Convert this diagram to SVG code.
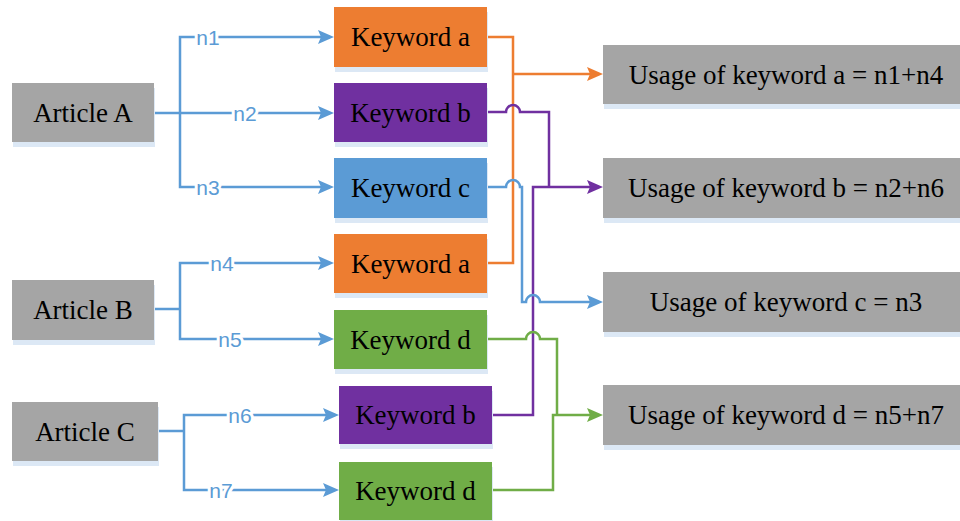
<svg xmlns="http://www.w3.org/2000/svg" width="960" height="521" viewBox="0 0 960 521">
<style>
.sh{fill:#dce8f5}
.gray{fill:#a5a5a5}
.or{fill:#ed7d31}
.pu{fill:#7030a0}
.bl{fill:#5b9bd5}
.gr{fill:#70ad47}
.t{font-family:"Liberation Serif","Times New Roman",serif;font-size:27px;fill:#000;text-anchor:middle}
.lbl{font-family:"Liberation Sans",Arial,sans-serif;font-size:21px;fill:#5b9bd5;text-anchor:middle;stroke:#fff;stroke-width:6px;paint-order:stroke;stroke-linejoin:round}
.c{fill:none;stroke-width:2.5}
.cb{stroke:#5b9bd5}
.co{stroke:#ed7d31}
.cp{stroke:#7030a0}
.cg{stroke:#70ad47}
</style>
<defs>
<marker id="ab" viewBox="0 0 16 14" refX="12" refY="7" markerWidth="16" markerHeight="14" markerUnits="userSpaceOnUse" orient="auto"><path d="M0,0 L16,7 L0,14 L3,7 z" fill="#5b9bd5"/></marker>
<marker id="ao" viewBox="0 0 16 14" refX="12" refY="7" markerWidth="16" markerHeight="14" markerUnits="userSpaceOnUse" orient="auto"><path d="M0,0 L16,7 L0,14 L3,7 z" fill="#ed7d31"/></marker>
<marker id="ap" viewBox="0 0 16 14" refX="12" refY="7" markerWidth="16" markerHeight="14" markerUnits="userSpaceOnUse" orient="auto"><path d="M0,0 L16,7 L0,14 L3,7 z" fill="#7030a0"/></marker>
<marker id="ag" viewBox="0 0 16 14" refX="12" refY="7" markerWidth="16" markerHeight="14" markerUnits="userSpaceOnUse" orient="auto"><path d="M0,0 L16,7 L0,14 L3,7 z" fill="#70ad47"/></marker>
</defs>
<rect width="960" height="521" fill="#fff"/>

<g id="connectors">
<!-- Article A -->
<path class="c cb" d="M154,113 H330" marker-end="url(#ab)"/>
<path class="c cb" d="M180,113 V37 H330" marker-end="url(#ab)"/>
<path class="c cb" d="M180,113 V187 H330" marker-end="url(#ab)"/>
<!-- Article B -->
<path class="c cb" d="M154,309 H180"/>
<path class="c cb" d="M180,309 V263 H330" marker-end="url(#ab)"/>
<path class="c cb" d="M180,309 V339 H330" marker-end="url(#ab)"/>
<!-- Article C -->
<path class="c cb" d="M158,431 H184"/>
<path class="c cb" d="M184,431 V415 H335" marker-end="url(#ab)"/>
<path class="c cb" d="M184,431 V490 H335" marker-end="url(#ab)"/>
<text class="lbl" x="208" y="44.5">n1</text>
<text class="lbl" x="245" y="120.5">n2</text>
<text class="lbl" x="208" y="194.5">n3</text>
<text class="lbl" x="222" y="270.5">n4</text>
<text class="lbl" x="230" y="346.5">n5</text>
<text class="lbl" x="240" y="422.5">n6</text>
<text class="lbl" x="221" y="497.5">n7</text>
<!-- keyword a -->
<path class="c co" d="M487,37 H513 V263 H487"/>
<path class="c co" d="M513,74 H599" marker-end="url(#ao)"/>
<!-- keyword b -->
<path class="c cp" d="M487,112 H506 A7,7 0 0 1 520,112 H549 V187"/>
<path class="c cp" d="M492,415 H533 V187 H599" marker-end="url(#ap)"/>
<!-- keyword c -->
<path class="c cb" d="M487,187 H506 A7,7 0 0 1 520,187 H522 V302 H526 A7,7 0 0 1 540,302 H599" marker-end="url(#ab)"/>
<!-- keyword d -->
<path class="c cg" d="M487,339 H526 A7,7 0 0 1 540,339 H557 V415"/>
<path class="c cg" d="M492,490 H553 V415 H599" marker-end="url(#ag)"/>
</g>

<g id="articleA"><rect class="sh" x="13" y="88" width="142" height="59"/><rect class="gray" x="12" y="83" width="142" height="59"/><text class="t" x="83" y="122">Article A</text></g>
<g id="articleB"><rect class="sh" x="13" y="285" width="142" height="60"/><rect class="gray" x="12" y="280" width="142" height="60"/><text class="t" x="83" y="319">Article B</text></g>
<g id="articleC"><rect class="sh" x="13" y="407" width="146" height="59"/><rect class="gray" x="12" y="402" width="146" height="59"/><text class="t" x="85" y="441">Article C</text></g>

<g id="kwA1"><rect class="sh" x="335" y="12" width="153" height="60"/><rect class="or" x="334" y="7" width="153" height="60"/><text class="t" x="410.5" y="46">Keyword a</text></g>
<g id="kwB1"><rect class="sh" x="335" y="88" width="153" height="59"/><rect class="pu" x="334" y="83" width="153" height="59"/><text class="t" x="410.5" y="122">Keyword b</text></g>
<g id="kwC"><rect class="sh" x="335" y="163" width="153" height="60"/><rect class="bl" x="334" y="158" width="153" height="60"/><text class="t" x="410.5" y="197">Keyword c</text></g>
<g id="kwA2"><rect class="sh" x="335" y="239" width="153" height="59"/><rect class="or" x="334" y="234" width="153" height="59"/><text class="t" x="410.5" y="273">Keyword a</text></g>
<g id="kwD1"><rect class="sh" x="335" y="315" width="153" height="59"/><rect class="gr" x="334" y="310" width="153" height="59"/><text class="t" x="410.5" y="349">Keyword d</text></g>
<g id="kwB2"><rect class="sh" x="340" y="391" width="153" height="58"/><rect class="pu" x="339" y="386" width="153" height="58"/><text class="t" x="415.5" y="424">Keyword b</text></g>
<g id="kwD2"><rect class="sh" x="340" y="467" width="153" height="58"/><rect class="gr" x="339" y="462" width="153" height="58"/><text class="t" x="415.5" y="500">Keyword d</text></g>

<g id="usageA"><rect class="sh" x="604" y="50" width="365" height="59"/><rect class="gray" x="603" y="45" width="365" height="59"/><text class="t" x="786" y="84">Usage of keyword a = n1+n4</text></g>
<g id="usageB"><rect class="sh" x="604" y="163" width="365" height="60"/><rect class="gray" x="603" y="158" width="365" height="60"/><text class="t" x="786" y="197">Usage of keyword b = n2+n6</text></g>
<g id="usageC"><rect class="sh" x="604" y="277" width="365" height="60"/><rect class="gray" x="603" y="272" width="365" height="60"/><text class="t" x="786" y="311">Usage of keyword c = n3</text></g>
<g id="usageD"><rect class="sh" x="604" y="390" width="365" height="60"/><rect class="gray" x="603" y="385" width="365" height="60"/><text class="t" x="786" y="424">Usage of keyword d = n5+n7</text></g>
</svg>
